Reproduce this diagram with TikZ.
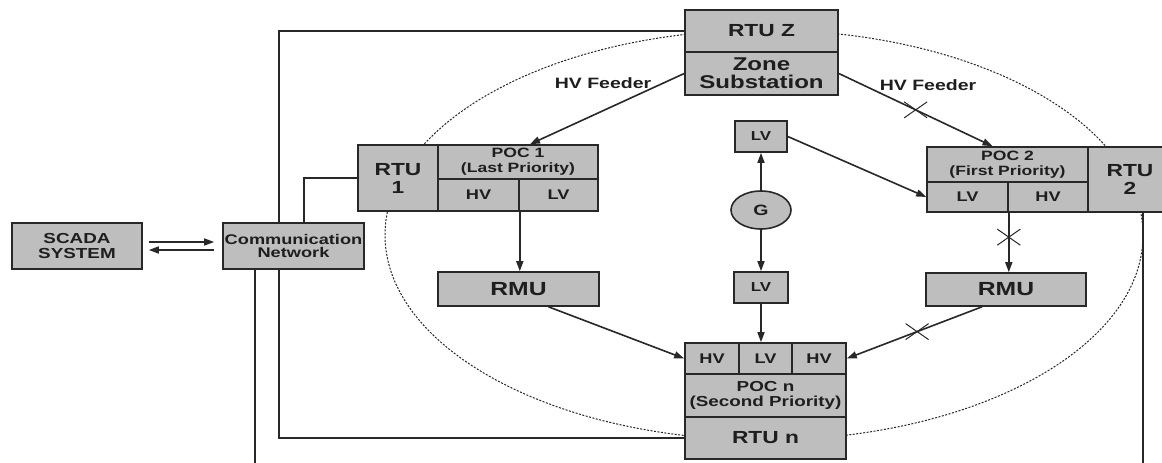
\documentclass[tikz,border=0pt]{standalone}
\usepackage{fontspec}
\setmainfont{Liberation Sans}[FakeStretch=1.3]
\usetikzlibrary{arrows.meta,shapes.misc,shapes.geometric}
\definecolor{boxgray}{RGB}{190,190,190}
\definecolor{linec}{RGB}{40,40,40}
\definecolor{txt}{RGB}{30,30,30}
\newcommand{\fsz}[2]{\fontsize{#1}{#2}\selectfont\bfseries}
\begin{document}
\begin{tikzpicture}[x=1pt,y=-1pt,
  box/.style={draw=linec,line width=1.6pt,fill=boxgray,inner sep=0pt,align=center,text=txt},
  conn/.style={draw=linec,line width=1.6pt},
  arr/.style={conn,-{Triangle[length=10pt,width=7pt]}},
  crossmk/.style={cross out,draw=linec,line width=1pt,minimum width=22pt,minimum height=15pt,inner sep=0pt},
  ringline/.style={draw=linec,line width=1pt,dash pattern=on 2pt off 1.5pt},
  lbl/.style={text=txt,inner sep=0pt}]
\clip (0,0) rectangle (1162,463);
\fill[white] (0,0) rectangle (1162,463);
\draw[ringline] (764,235) ellipse [x radius=379, y radius=205];

% top substation
\node[box,minimum width=153pt,minimum height=42pt,font=\fsz{17.5}{20}] (rtuz) at (761.5,31) {RTU Z};
\node[box,minimum width=153pt,minimum height=43pt,font=\fsz{18.5}{18}] (zone) at (761.5,73.5) {Zone\\Substation};

% POC 1
\node[box,minimum width=80pt,minimum height=66pt,font=\fsz{17.5}{18}] (rtu1) at (398,178) {RTU\\1};
\node[box,minimum width=160pt,minimum height=34pt,font=\fsz{13.5}{15}] (poc1) at (518,162) {POC 1\\(Last Priority)};
\node[box,minimum width=81pt,minimum height=32pt,font=\fsz{14}{15}] (poc1hv) at (478.5,195) {HV};
\node[box,minimum width=79pt,minimum height=32pt,font=\fsz{14}{15}] (poc1lv) at (558.5,195) {LV};
\node[box,minimum width=161pt,minimum height=34pt,font=\fsz{19}{20}] (rmu1) at (518.5,289) {RMU};

% generator
\node[box,minimum width=52pt,minimum height=31pt,font=\fsz{13}{14}] (lvtop) at (761,136.5) {LV};
\node[box,ellipse,minimum width=60pt,minimum height=38pt,font=\fsz{15}{16}] (g) at (761,210) {G};
\node[box,minimum width=54pt,minimum height=31pt,font=\fsz{13}{14}] (lvbot) at (761,287.5) {LV};

% POC 2
\node[box,minimum width=161pt,minimum height=35pt,font=\fsz{13.5}{15}] (poc2) at (1007.5,164.5) {POC 2\\(First Priority)};
\node[box,minimum width=81pt,minimum height=30pt,font=\fsz{14}{15}] (poc2lv) at (967.5,197) {LV};
\node[box,minimum width=80pt,minimum height=30pt,font=\fsz{14}{15}] (poc2hv) at (1048,197) {HV};
\node[box,minimum width=84pt,minimum height=65pt,font=\fsz{17.5}{18}] (rtu2) at (1130,179.5) {RTU\\2};
\node[box,minimum width=160pt,minimum height=33pt,font=\fsz{19}{20}] (rmu2) at (1006,289.5) {RMU};

% POC n
\node[box,minimum width=54pt,minimum height=31pt,font=\fsz{14}{15}] (pocnhv1) at (712,358.5) {HV};
\node[box,minimum width=53pt,minimum height=31pt,font=\fsz{14}{15}] (pocnlv) at (765.5,358.5) {LV};
\node[box,minimum width=54pt,minimum height=31pt,font=\fsz{14}{15}] (pocnhv2) at (819,358.5) {HV};
\node[box,minimum width=161pt,minimum height=43pt,font=\fsz{14.5}{15}] (pocn) at (765.5,395.5) {POC n\\(Second Priority)};
\node[box,minimum width=161pt,minimum height=42pt,font=\fsz{17.5}{20}] (rtun) at (765.5,438) {RTU n};

% SCADA and network
\node[box,minimum width=130pt,minimum height=46pt,font=\fsz{14.5}{15}] (scada) at (77,246) {SCADA\\SYSTEM};
\node[box,minimum width=141pt,minimum height=46pt,font=\fsz{14}{13.5}] (comm) at (293.5,246) {Communication\\Network};

% labels
\node[lbl,font=\fsz{15}{16}] (feedL) at (603,83) {HV Feeder};
\node[lbl,font=\fsz{15}{16}] (feedR) at (928,85) {HV Feeder};

% free ends
\coordinate (bl) at (255,470);
\coordinate (br) at (1143,470);

% communication lines
\draw[conn] (rtuz.west) -| ([xshift=-14.5pt]comm.north);
\draw[conn] ([xshift=-14.5pt]comm.south) |- (rtun.west);
\draw[conn] ([xshift=10.5pt]comm.north) |- (rtu1.west);
\draw[conn] ([xshift=-38.5pt]comm.south) -- (bl);
\draw[conn] (rtu2.south -| br) -- (br);
\draw[arr,shorten <=6pt,shorten >=8pt] ([yshift=4pt]scada.east) -- ([yshift=4pt]comm.west);
\draw[arr,shorten <=8pt,shorten >=6pt] ([yshift=-4pt]comm.west) -- ([yshift=-4pt]scada.east);

% power lines
\draw[arr] (zone.west) -- ([xshift=12pt]poc1.north);
\draw[arr] (zone.east) -- ([xshift=-15pt]poc2.north) node[crossmk,pos=0.5]{};
\draw[arr] (lvtop.east) -- (poc2lv.west);
\draw[arr] (g) -- (lvtop);
\draw[arr] (g) -- (lvbot);
\draw[arr] (lvbot) -- (lvbot |- pocnlv.north);
\draw[arr] (poc1hv.south east) -- (poc1hv.south east |- rmu1.north);
\draw[arr] (poc2lv.south east) -- (poc2lv.south east |- rmu2.north) node[crossmk,pos=0.41]{};
\draw[arr] ([xshift=30pt]rmu1.south) -- (pocnhv1.west);
\draw[arr] ([xshift=-24pt]rmu2.south) -- (pocnhv2.east) node[crossmk,pos=0.48]{};
\end{tikzpicture}
\end{document}
